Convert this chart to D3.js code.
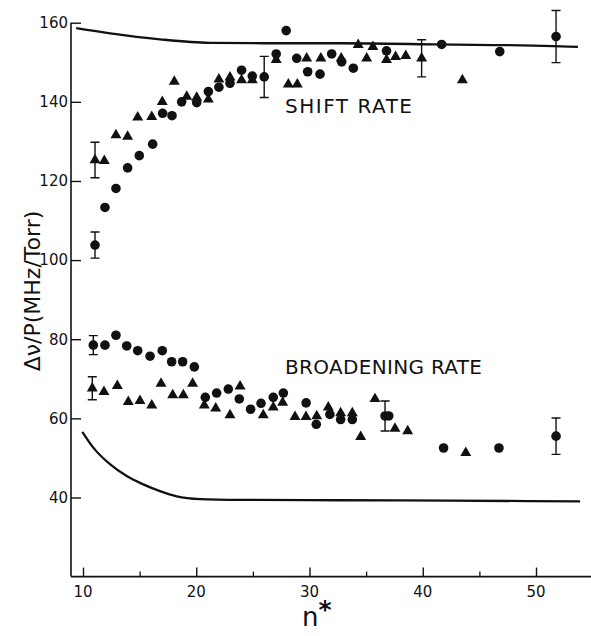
<!DOCTYPE html>
<html>
<head>
<meta charset="utf-8">
<script src="https://cdn.jsdelivr.net/npm/d3@7"></script>
<style>
  html, body { margin: 0; padding: 0; background: #fff; }
  svg { display: block; }
  text { font-family: "DejaVu Sans", sans-serif; fill: #111; }
</style>
</head>
<body>
<script>
// ---------- data ----------
const xTicks = [10, 20, 30, 40, 50];
const xMinorTicks = [15, 25, 35, 45];
const yTicks = [40, 60, 80, 100, 120, 140, 160];

// theory curves
const shiftTheoryN = [9.4, 12.4, 16.8, 21.2, 26.0, 32.7, 41.5, 51.5, 53.7];
const shiftTheoryV = [158.6, 157.3, 155.8, 154.9, 154.8, 154.8, 154.5, 154.1, 153.9];
const broadTheoryN = [9.94, 10.91, 12.38, 13.86, 15.32, 16.8, 18.27, 20.33, 23.9, 32.7, 42.4, 53.9];
const broadTheoryV = [56.6, 52.6, 48.4, 45.4, 43.3, 41.6, 40.3, 39.6, 39.4, 39.3, 39.2, 39.0];

// shift rate, circles
const shiftCircN = [11.06, 11.94, 12.91, 13.94, 14.97, 16.15, 17.03, 17.86, 18.71, 20.04, 21.07, 22.0, 22.98, 24.0, 24.95, 26.0, 27.06, 27.94, 28.87, 29.84, 30.93, 31.96, 32.84, 33.87, 36.8, 41.67, 46.8, 51.77];
const shiftCircV = [103.8, 113.3, 118.1, 123.3, 126.4, 129.3, 137.1, 136.5, 140.0, 139.8, 142.6, 143.7, 144.7, 148.0, 146.5, 146.3, 152.1, 158.0, 151.0, 147.6, 147.0, 152.1, 150.1, 148.5, 152.9, 154.5, 152.7, 156.5];
// shift rate, triangles
const shiftTriN = [11.06, 11.88, 12.91, 13.94, 14.83, 16.07, 17.0, 18.06, 19.16, 20.04, 21.07, 22.0, 22.98, 24.0, 24.95, 27.06, 28.13, 28.92, 29.75, 31.0, 32.8, 34.3, 35.05, 35.6, 36.8, 37.6, 38.5, 39.9, 43.5];
const shiftTriV = [125.3, 125.1, 131.6, 131.2, 136.1, 136.2, 140.0, 145.1, 141.3, 141.1, 140.6, 145.7, 146.2, 145.5, 145.5, 150.6, 144.4, 144.4, 151.0, 151.0, 151.0, 154.4, 151.0, 153.9, 150.6, 151.4, 151.6, 151.0, 145.5];

// broadening rate, circles
const broadCircN = [10.91, 11.94, 12.91, 13.86, 14.83, 15.92, 17.0, 17.83, 18.8, 19.83, 20.8, 21.8, 22.83, 23.8, 24.8, 25.72, 26.8, 27.69, 29.7, 30.6, 31.8, 32.75, 33.78, 36.67, 37.0, 41.84, 46.73, 51.77];
const broadCircV = [78.5, 78.5, 81.0, 78.3, 77.1, 75.7, 77.1, 74.3, 74.3, 73.0, 65.3, 66.4, 67.4, 64.9, 62.3, 63.8, 65.3, 66.4, 63.9, 58.5, 61.0, 59.7, 59.7, 60.6, 60.6, 52.5, 52.5, 55.5];
// broadening rate, triangles
const broadTriN = [10.82, 11.85, 13.03, 14.0, 15.03, 16.07, 16.89, 17.92, 18.86, 19.68, 20.71, 21.72, 22.98, 23.87, 25.92, 26.8, 27.63, 28.72, 29.69, 30.64, 31.66, 32.75, 33.78, 34.52, 35.78, 37.55, 38.67, 43.8];
const broadTriV = [67.6, 66.7, 68.2, 64.2, 64.4, 63.3, 68.8, 65.9, 65.9, 68.8, 63.3, 62.5, 60.8, 68.1, 60.8, 62.8, 64.0, 60.4, 60.4, 60.6, 62.8, 61.3, 61.3, 55.3, 64.9, 57.4, 56.8, 51.3];

// error bars: n, centre, half-width
const errN = [11.06, 26.0, 51.77, 11.06, 39.9, 10.91, 36.67, 51.77, 10.82];
const errV = [103.8, 146.3, 156.5, 125.3, 151.0, 78.5, 60.6, 55.5, 67.6];
const errH = [3.3, 5.2, 6.6, 4.5, 4.7, 2.4, 3.8, 4.6, 2.9];

// ---------- drawing ----------
const W = 591, H = 636;
const svg = d3.select("body").append("svg").attr("width", W).attr("height", H);

const x = d3.scaleLinear().domain([10 - 12 / 11.325, 10 + 508 / 11.325]).range([71, 591]);
const y = d3.scaleLinear().domain([20, 160]).range([576.6, 22.7]);

const ink = "#111";

// axes
const yAxis = d3.axisRight(y).tickValues(yTicks).tickSize(10).tickFormat("");
const gy = svg.append("g").attr("transform", `translate(${x.range()[0]},0)`).call(yAxis);
gy.select(".domain").attr("d", `M0,${y(160)}V${y(20)}`).attr("stroke", ink).attr("stroke-width", 1.6);
gy.selectAll(".tick line").attr("stroke", ink).attr("stroke-width", 1.4);

const xAxis = d3.axisTop(x).tickValues(xTicks).tickSize(9).tickFormat("");
const gx = svg.append("g").attr("transform", `translate(0,${y(20)})`).call(xAxis);
gx.select(".domain").attr("d", `M${x.range()[0]},0H${x.range()[1]}`).attr("stroke", ink).attr("stroke-width", 1.6);
gx.selectAll(".tick line").attr("stroke", ink).attr("stroke-width", 1.4);
const xMinor = d3.axisTop(x).tickValues(xMinorTicks).tickSize(5).tickFormat("");
const gxm = svg.append("g").attr("transform", `translate(0,${y(20)})`).call(xMinor);
gxm.select(".domain").remove();
gxm.selectAll(".tick line").attr("stroke", ink).attr("stroke-width", 1.3);

// tick labels
svg.append("g").selectAll("text").data(yTicks).join("text")
  .attr("x", 68).attr("y", d => y(d)).attr("dy", "0.36em")
  .attr("text-anchor", "end").attr("font-size", 15).text(d => d);
svg.append("g").selectAll("text").data(xTicks).join("text")
  .attr("x", d => x(d)).attr("y", 597)
  .attr("text-anchor", "middle").attr("font-size", 15).text(d => d);

// axis titles
svg.append("text")
  .attr("transform", `translate(40,291) rotate(-90)`)
  .attr("text-anchor", "middle").attr("font-size", 22)
  .text("Δν/P(MHz/Torr)");
const nt = svg.append("text").attr("x", 302).attr("y", 626).attr("font-size", 26);
nt.append("tspan").text("n");
nt.append("tspan").attr("dy", -8).attr("font-size", 25).attr("font-weight", "bold").text("*");

// series labels
svg.append("text").attr("x", 285).attr("y", 113).attr("font-size", 20)
  .attr("textLength", 127).attr("lengthAdjust", "spacing").text("SHIFT RATE");
svg.append("text").attr("x", 285).attr("y", 374).attr("font-size", 20)
  .attr("textLength", 197).attr("lengthAdjust", "spacing").text("BROADENING RATE");

// theory curves
const line = d3.line().x(d => x(d[0])).y(d => y(d[1])).curve(d3.curveMonotoneX);
svg.append("path").datum(d3.zip(shiftTheoryN, shiftTheoryV)).attr("d", line)
  .attr("fill", "none").attr("stroke", ink).attr("stroke-width", 2.3);
svg.append("path").datum(d3.zip(broadTheoryN, broadTheoryV)).attr("d", line)
  .attr("fill", "none").attr("stroke", ink).attr("stroke-width", 2.3);

// error bars
const eb = svg.append("g").attr("stroke", ink).attr("stroke-width", 1.4).attr("fill", "none");
d3.range(errN.length).forEach(i => {
  const cx = x(errN[i]), y1 = y(errV[i] + errH[i]), y2 = y(errV[i] - errH[i]);
  eb.append("path").attr("d", `M${cx},${y1}V${y2}M${cx - 4.5},${y1}H${cx + 4.5}M${cx - 4.5},${y2}H${cx + 4.5}`);
});

// markers
const circ = d3.zip(shiftCircN, shiftCircV).concat(d3.zip(broadCircN, broadCircV));
svg.append("g").selectAll("circle").data(circ).join("circle")
  .attr("cx", d => x(d[0])).attr("cy", d => y(d[1])).attr("r", 4.8).attr("fill", ink);
const tri = d3.zip(shiftTriN, shiftTriV).concat(d3.zip(broadTriN, broadTriV));
const triSym = d3.symbol(d3.symbolTriangle, 52);
svg.append("g").selectAll("path").data(tri).join("path")
  .attr("transform", d => `translate(${x(d[0])},${y(d[1])})`)
  .attr("d", triSym).attr("fill", ink);
</script>
</body>
</html>
